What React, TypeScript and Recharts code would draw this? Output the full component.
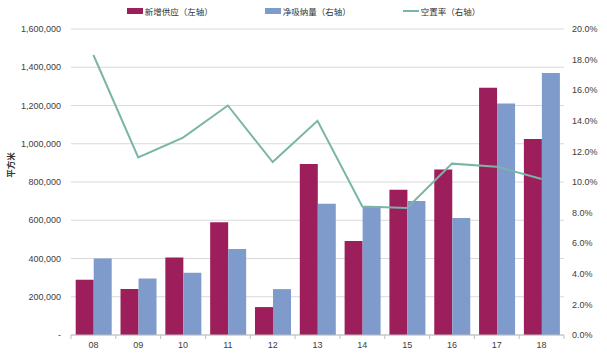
import {
  Bar,
  CartesianGrid,
  ComposedChart,
  Legend,
  Line,
  XAxis,
  YAxis,
} from "recharts"

const years = ["08", "09", "10", "11", "12", "13", "14", "15", "16", "17", "18"]
const newSupply = [289000, 240000, 405000, 590000, 146000, 894000, 491000, 760000, 865000, 1293000, 1025000]
const netAbsorption = [400000, 296000, 325000, 450000, 240000, 686000, 674000, 701000, 612000, 1211000, 1370000]
const vacancy = [0.183, 0.116, 0.129, 0.15, 0.113, 0.14, 0.084, 0.083, 0.112, 0.11, 0.102]

const leftTicks = [0, 200000, 400000, 600000, 800000, 1000000, 1200000, 1400000, 1600000]
const rightTicks = [0, 0.02, 0.04, 0.06, 0.08, 0.1, 0.12, 0.14, 0.16, 0.18, 0.2]

const COLORS = {
  supply: "#9c1f5b",
  absorption: "#7f9bcc",
  vacancy: "#7ab5a8",
}

const legendItems = [
  { name: "新增供应（左轴）", color: COLORS.supply, type: "rect" },
  { name: "净吸纳量（右轴）", color: COLORS.absorption, type: "rect" },
  { name: "空置率（右轴）", color: COLORS.vacancy, type: "line" },
]

const data = years.map((year, i) => ({
  year,
  supply: newSupply[i],
  absorption: netAbsorption[i],
  vacancy: vacancy[i],
}))

const axisFont = { fontSize: 9, fill: "#404040", fontFamily: "'Liberation Sans', Arial, sans-serif" }

function ChartLegend() {
  return (
    <div
      style={{
        display: "flex",
        justifyContent: "center",
        gap: 52,
        fontFamily: "'Noto Sans CJK SC', sans-serif",
        fontSize: 8.5,
        color: "#333",
        lineHeight: "14px",
      }}
    >
      {legendItems.map((item) => (
        <div key={item.name} style={{ display: "flex", alignItems: "center" }}>
          <span
            style={{
              display: "inline-block",
              width: 16,
              height: item.type === "rect" ? 6 : 2,
              background: item.color,
              marginRight: 2,
            }}
          />
          <span>{item.name}</span>
        </div>
      ))}
    </div>
  )
}

function XTick(props: any) {
  const { x, y, payload, index, visibleTicksCount, width } = props
  const step = width / visibleTicksCount
  const axisY = y - 7
  return (
    <g>
      <line x1={x - step / 2} x2={x - step / 2} y1={axisY} y2={axisY + 4} stroke="#bfbfbf" />
      {index === visibleTicksCount - 1 && (
        <line x1={x + step / 2} x2={x + step / 2} y1={axisY} y2={axisY + 4} stroke="#bfbfbf" />
      )}
      <text x={x} y={y} dy="0.71em" textAnchor="middle" {...axisFont}>
        {payload.value}
      </text>
    </g>
  )
}

export default function App() {
  return (
    <div style={{ position: "absolute", left: 0, top: 0, width: 607, height: 364, background: "#fff" }}>
      <ComposedChart
        width={607}
        height={364}
        data={data}
        margin={{ top: 29, right: 0, bottom: 0, left: 0 }}
        barCategoryGap="10.5%"
        barGap={0}
      >
        <CartesianGrid vertical={false} stroke="#d9d9d9" yAxisId="left" />
        <XAxis
          dataKey="year"
          height={29}
          axisLine={{ stroke: "#bfbfbf" }}
          tickLine={false}
          tickSize={5}
          tickMargin={2}
          tick={<XTick />}
          interval={0}
        />
        <YAxis
          yAxisId="left"
          width={71}
          domain={[0, 1600000]}
          ticks={leftTicks}
          axisLine={false}
          tickLine={false}
          tickMargin={4}
          tick={axisFont}
          tickFormatter={(v: number) => (v === 0 ? "-" : v.toLocaleString("en-US"))}
          label={{
            content: () => (
              <text
                x={14}
                y={165}
                transform="rotate(-90 14 165)"
                textAnchor="middle"
                fontSize={8.5}
                fontWeight={600}
                fill="#333"
                fontFamily="'Noto Sans CJK SC', sans-serif"
              >
                平方米
              </text>
            ),
          }}
        />
        <YAxis
          yAxisId="right"
          orientation="right"
          width={43}
          domain={[0, 0.2]}
          ticks={rightTicks}
          axisLine={false}
          tickLine={false}
          tickMargin={2}
          tick={axisFont}
          tickFormatter={(v: number) => `${(v * 100).toFixed(1)}%`}
        />
        <Legend
          verticalAlign="middle"
          align="center"
          wrapperStyle={{ top: 4, left: 0, width: 607 }}
          content={<ChartLegend />}
        />
        <Bar yAxisId="left" dataKey="supply" name="新增供应（左轴）" fill={COLORS.supply} isAnimationActive={false} />
        <Bar yAxisId="left" dataKey="absorption" name="净吸纳量（右轴）" fill={COLORS.absorption} isAnimationActive={false} />
        <Line
          yAxisId="right"
          dataKey="vacancy"
          name="空置率（右轴）"
          type="linear"
          stroke={COLORS.vacancy}
          strokeWidth={2}
          dot={false}
          isAnimationActive={false}
        />
      </ComposedChart>
    </div>
  )
}
